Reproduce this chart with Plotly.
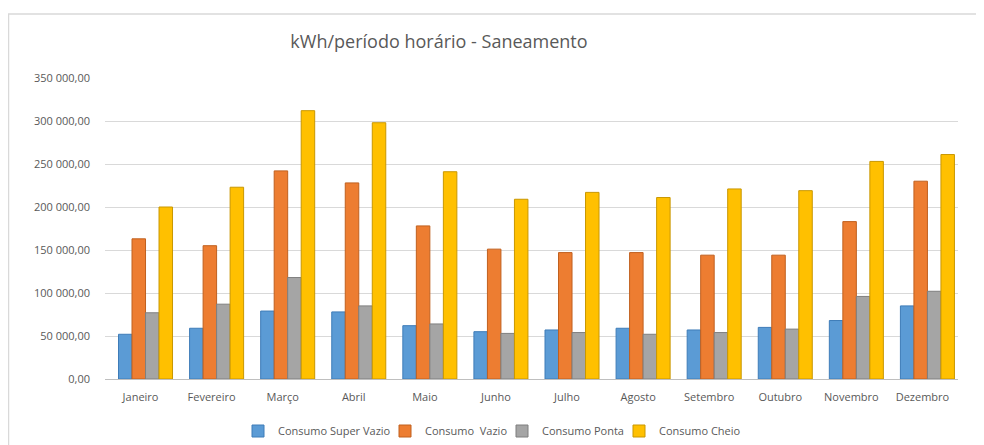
import plotly.graph_objects as go

months = ["Janeiro", "Fevereiro", "Março", "Abril", "Maio", "Junho", "Julho",
          "Agosto", "Setembro", "Outubro", "Novembro", "Dezembro"]
super_vazio = [52000, 59000, 79000, 78000, 62000, 55000, 57000, 59000, 57000, 60000, 68000, 85000]
vazio = [163000, 155000, 242000, 228000, 178000, 151000, 147000, 147000, 144000, 144000, 183000, 230000]
ponta = [77000, 87000, 118000, 85000, 64000, 53000, 54000, 52000, 54000, 58000, 96000, 102000]
cheio = [200000, 223000, 312000, 298000, 241000, 209000, 217000, 211000, 221000, 219000, 253000, 261000]

series_names = ["Consumo Super Vazio", "Consumo \u00a0Vazio", "Consumo Ponta", "Consumo Cheio"]
series_vals = [super_vazio, vazio, ponta, cheio]
colors = ["#5B9BD5", "#ED7D31", "#A5A5A5", "#FFC000"]
edges = ["#3E7CB8", "#C0601F", "#7F7F7F", "#C99700"]

OFF = 8  # page body margin
W, H = 984 - OFF, 445 - OFF
L = 105 - OFF
R = W - (958 - OFF)
T = 78 - OFF
B = H - (379 - OFF)
pw, ph = W - L - R, H - T - B


def px_x(x):
    return (x - OFF - L) / pw


def px_y(y):
    return (H - B - (y - OFF)) / ph


BAR_W = 0.19
START = -0.31
legend_text_x = [278, 425, 542, 659]  # where each legend label starts (reference px)
legend_names = ["legend", "legend2", "legend3", "legend4"]

fig = go.Figure()
for i, (name, vals, c, e) in enumerate(zip(series_names, series_vals, colors, edges)):
    fig.add_trace(go.Bar(x=months, y=vals, name=name,
                         width=BAR_W, offset=START + i * BAR_W,
                         legend=legend_names[i],
                         marker=dict(color=c, line=dict(color=e, width=1))))

font_family = "Open Sans, Liberation Sans, sans-serif"
layout_legends = {}
for i, ln in enumerate(legend_names):
    layout_legends[ln] = dict(
        orientation="h", x=(legend_text_x[i] - 40 - OFF) / W, xanchor="left",
        xref="container", y=1 - (431 - OFF) / H, yref="container", yanchor="middle",
        font=dict(size=11, color="#595959"), itemwidth=30,
        bgcolor="rgba(0,0,0,0)")

fig.update_layout(
    width=W, height=H,
    margin=dict(l=L, r=R, t=T, b=B),
    paper_bgcolor="white", plot_bgcolor="white",
    separators=", ",
    barmode="overlay",
    font=dict(family=font_family, color="#595959", size=11),
    title=dict(text="kWh/período horário - Saneamento",
               x=(439 - OFF) / W, xref="container", xanchor="center",
               y=1 - (42 - OFF) / H, yref="container", yanchor="middle",
               font=dict(size=18, color="#595959", family=font_family)),
    xaxis=dict(showgrid=False, showline=True, linecolor="#BFBFBF", linewidth=1,
               ticks="", ticklabelstandoff=8,
               tickfont=dict(size=11, color="#595959")),
    yaxis=dict(range=[0, 350000], dtick=50000, tickformat=",.2f",
               showgrid=True, gridcolor="#D9D9D9", gridwidth=1,
               zeroline=False, showline=False, ticks="",
               ticklabelstandoff=14,
               tickfont=dict(size=11, color="#595959")),
    showlegend=True,
    **layout_legends,
)

# chart-area border (top and left visible)
fig.add_shape(type="rect", xref="paper", yref="paper",
              x0=px_x(8.5), x1=px_x(1000), y0=px_y(460), y1=px_y(14),
              line=dict(color="#D9D9D9", width=1.5), fillcolor="rgba(0,0,0,0)",
              layer="below")

fig.write_html("out.html")
